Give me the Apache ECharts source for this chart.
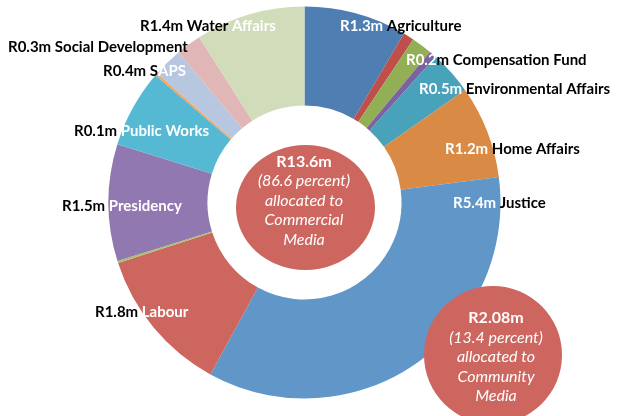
<!DOCTYPE html>
<html><head><meta charset="utf-8">
<script src="https://cdn.jsdelivr.net/npm/echarts@6/dist/echarts.min.js"></script>
<style>html,body{margin:0;padding:0;background:#fff}#c{width:622px;height:416px}</style>
</head><body><div id="c"></div>
<script>
// ---- data ----
const departments = ['Agriculture','Unlabelled A','Compensation Fund','Unlabelled B','Environmental Affairs','Home Affairs','Justice','Labour','Unlabelled C','Presidency','Public Works','Unlabelled D','SAPS','Social Development','Water Affairs'];
const amounts = [1.328,0.139,0.266,0.096,0.566,1.198,5.497,1.886,0.026,1.511,1.011,0.030,0.383,0.327,1.416];
const amountLabels = ['R1.3m','','R0.2m','','R0.5m','R1.2m','R5.4m','R1.8m','','R1.5m','R0.1m','','R0.4m','R0.3m','R1.4m'];
const commercialText = ['R13.6m','(86.6 percent)','allocated to','Commercial','Media'];
const communityText = ['R2.08m','(13.4 percent)','allocated to','Community','Media'];

// ---- styles / layout ----
const colors = ['#4F7EB2','#BE4F4B','#93AF56','#7B62A0','#47A2BA','#D98B46','#6096C8','#CD665F','#A5C46A','#9278B1','#56B9D3','#F9A35A','#B8C7E0','#E0B7B6','#D1DDBA'];
// [first segment colour, chars in first segment]
const labelSplit = [['w',6],null,['w',4],null,['w',6],['w',6],['w',6],['k',6],null,['k',6],['k',6],null,['k',7],['k',99],['k',12]];
const labelPos = [[340,26],null,[406,60],null,[419,89],[445,149],[453,203],[95,312],null,[62,206],[74,131],null,[103,71],[8,47],[140,26]];

function labelText(i){
  const sp = labelSplit[i];
  if (!sp) return '';
  const s = amountLabels[i] + ' ' + departments[i];
  const a = s.slice(0, sp[1]), b = s.slice(sp[1]);
  const c2 = sp[0] === 'w' ? 'k' : 'w';
  return '{' + sp[0] + '|' + a + '}' + (b ? '{' + c2 + '|' + b + '}' : '');
}

const data = departments.map((n, i) => ({
  name: n,
  value: amounts[i],
  itemStyle: { color: colors[i] },
  label: { show: !!amountLabels[i] }
}));

function centerText(lines){
  return lines.map((t, i) => i === 0 ? '{b|' + t + '}' : '{i|' + t + '}').join('\n');
}
const richCenter = {
  b: { fontFamily: 'Lato', fontWeight: 'bold', fontSize: 16, color: '#fff', lineHeight: 19.5 },
  i: { fontFamily: 'Lato', fontStyle: 'italic', fontSize: 16, color: '#fff', lineHeight: 19.5 }
};
const labelFont = { fontFamily: 'Lato', fontWeight: 'bold', fontSize: 15 };

const chart = echarts.init(document.getElementById('c'), null, { renderer: 'canvas' });
chart.setOption({
  animation: false,
  backgroundColor: '#fff',
  series: [{
    type: 'pie',
    center: [304.5, 202.5],
    radius: [97, 196],
    startAngle: 90,
    clockwise: true,
    avoidLabelOverlap: false,
    data: data,
    label: {
      position: 'outside',
      formatter: p => labelText(p.dataIndex),
      rich: {
        w: Object.assign({ color: '#fff' }, labelFont),
        k: Object.assign({ color: '#000' }, labelFont)
      }
    },
    labelLine: { show: false },
    labelLayout: function (params) {
      const p = labelPos[params.dataIndex];
      if (!p) return {};
      return { x: p[0], y: p[1], align: 'left', verticalAlign: 'middle' };
    },
    emphasis: { disabled: true }
  }],
  graphic: [
    { type: 'ellipse', shape: { cx: 305.5, cy: 207.5, rx: 69.5, ry: 62.5 }, style: { fill: '#CD665F' }, z: 10 },
    { type: 'text', x: 304, y: 200.5, z: 11, style: { text: centerText(commercialText), rich: richCenter, align: 'center', verticalAlign: 'middle', fill: '#fff', textAlign: 'center', textVerticalAlign: 'middle' } },
    { type: 'circle', shape: { cx: 493, cy: 355, r: 69 }, style: { fill: '#CD665F' }, z: 10 },
    { type: 'text', x: 496, y: 357, z: 11, style: { text: centerText(communityText), rich: richCenter, align: 'center', verticalAlign: 'middle', fill: '#fff', textAlign: 'center', textVerticalAlign: 'middle' } }
  ]
});
</script>
</body></html>
